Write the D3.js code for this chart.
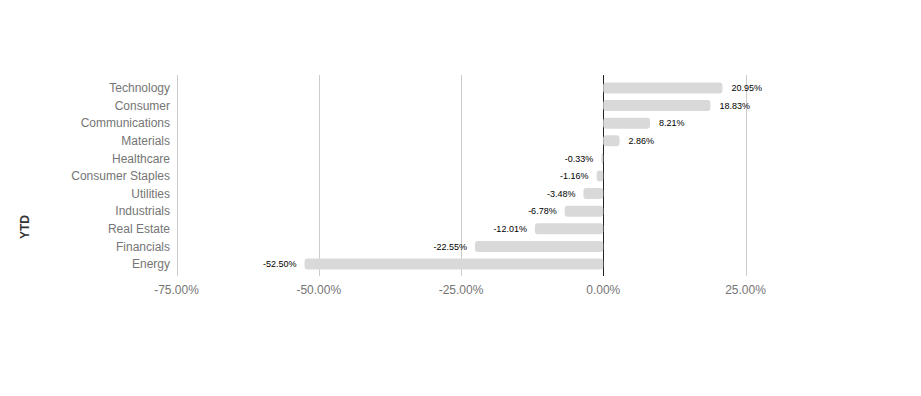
<!DOCTYPE html>
<html>
<head>
<meta charset="utf-8">
<script src="https://cdn.jsdelivr.net/npm/d3@7"></script>
<style>
  body { margin: 0; background: #fff; }
  svg text { font-family: "Liberation Sans", Arial, sans-serif; }
</style>
</head>
<body>
<div id="chart"></div>
<script>
// sector YTD returns, top to bottom
var sectors = ["Technology", "Consumer", "Communications", "Materials", "Healthcare",
  "Consumer Staples", "Utilities", "Industrials", "Real Estate", "Financials", "Energy"];
var ytd = [20.95, 18.83, 8.21, 2.86, -0.33, -1.16, -3.48, -6.78, -12.01, -22.55, -52.50];
var xTicks = [-75, -50, -25, 0, 25];

var width = 921, height = 396;
var svg = d3.select("#chart").append("svg")
  .attr("width", width)
  .attr("height", height);

var x = d3.scaleLinear().domain([-75, 25]).range([176.5, 745.5]);
var y = d3.scaleBand().domain(sectors).range([79.2, 272.8]);
var plotTop = 75, plotBottom = 276;
var barH = 11;

// gridlines
svg.append("g")
  .selectAll("line")
  .data(xTicks.filter(function (d) { return d !== 0; }))
  .enter().append("line")
  .attr("x1", function (d) { return Math.round(x(d)) + 0.5; })
  .attr("x2", function (d) { return Math.round(x(d)) + 0.5; })
  .attr("y1", plotTop)
  .attr("y2", plotBottom)
  .attr("stroke", "#cccccc")
  .attr("stroke-width", 1);

// zero line
svg.append("line")
  .attr("x1", Math.round(x(0)) + 0.5)
  .attr("x2", Math.round(x(0)) + 0.5)
  .attr("y1", plotTop)
  .attr("y2", plotBottom)
  .attr("stroke", "#222222")
  .attr("stroke-width", 1);

// bars
var rows = sectors.map(function (s, i) { return {name: s, value: ytd[i]}; });
svg.append("g")
  .selectAll("rect")
  .data(rows)
  .enter().append("rect")
  .attr("x", function (d) { return Math.min(x(0), x(d.value)); })
  .attr("y", function (d) { return y(d.name) + y.bandwidth() / 2 - barH / 2; })
  .attr("width", function (d) { return Math.abs(x(d.value) - x(0)); })
  .attr("height", barH)
  .attr("rx", 3)
  .attr("fill", "#d9d9d9");

// value labels
svg.append("g")
  .selectAll("text")
  .data(rows)
  .enter().append("text")
  .attr("x", function (d) { return d.value >= 0 ? x(d.value) + 9 : x(d.value) - 8; })
  .attr("y", function (d) { return y(d.name) + y.bandwidth() / 2; })
  .attr("dy", "0.35em")
  .attr("text-anchor", function (d) { return d.value >= 0 ? "start" : "end"; })
  .attr("font-size", 9)
  .attr("fill", "#000")
  .text(function (d) { return d.value.toFixed(2) + "%"; });

// category labels
svg.append("g")
  .selectAll("text")
  .data(sectors)
  .enter().append("text")
  .attr("x", 170)
  .attr("y", function (d) { return y(d) + y.bandwidth() / 2; })
  .attr("dy", "0.35em")
  .attr("text-anchor", "end")
  .attr("font-size", 12)
  .attr("fill", "#757575")
  .text(function (d) { return d; });

// x tick labels
svg.append("g")
  .selectAll("text")
  .data(xTicks)
  .enter().append("text")
  .attr("x", function (d) { return x(d); })
  .attr("y", 290)
  .attr("dy", "0.35em")
  .attr("text-anchor", "middle")
  .attr("font-size", 12)
  .attr("fill", "#757575")
  .text(function (d) { return d.toFixed(2) + "%"; });

// axis title
svg.append("text")
  .attr("transform", "translate(29,227) rotate(-90)")
  .attr("text-anchor", "middle")
  .attr("font-size", 12)
  .attr("font-weight", "bold")
  .attr("fill", "#333")
  .text("YTD");
</script>
</body>
</html>
